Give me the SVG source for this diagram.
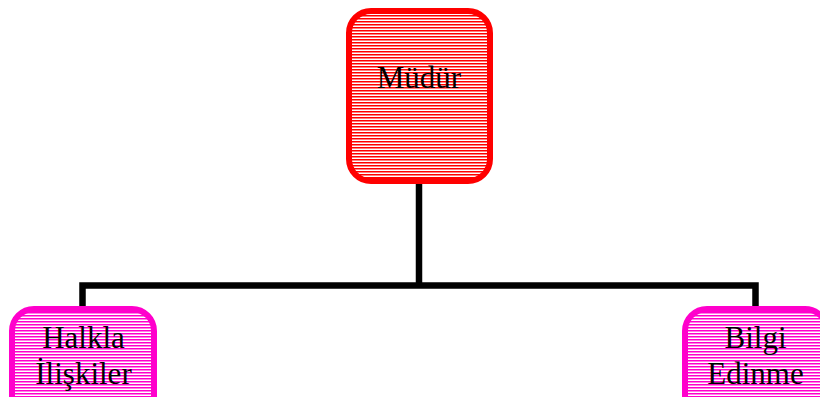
<svg xmlns="http://www.w3.org/2000/svg" width="820" height="397" viewBox="0 0 820 397">
  <defs>
    <pattern id="redStripes" patternUnits="userSpaceOnUse" width="8" height="3">
      <rect width="8" height="3" fill="#ffffff"/>
      <rect width="8" height="1.5" fill="#ff0000"/>
    </pattern>
    <pattern id="pinkStripes" patternUnits="userSpaceOnUse" width="8" height="3">
      <rect width="8" height="3" fill="#ffffff"/>
      <rect width="8" height="1.5" fill="#ff00cc"/>
    </pattern>
    <style>
      .lbl { font-family: "Liberation Serif", "Times New Roman", serif; font-size: 31px; fill: #000000; text-anchor: middle; }
      .conn { stroke: #000000; stroke-width: 6.5; fill: none; stroke-linejoin: miter; stroke-linecap: butt; }
      .boss { fill: url(#redStripes); stroke: #ff0000; stroke-width: 6; }
      .sub { fill: url(#pinkStripes); stroke: #ff00cc; stroke-width: 6; }
    </style>
  </defs>
  <rect width="820" height="397" fill="#ffffff"/>
  <g id="connectors">
    <path class="conn" d="M419,182 V285.5"/>
    <path class="conn" d="M82.5,309 V285.5 H755.5 V309"/>
  </g>
  <g id="node-mudur">
    <rect class="boss" x="349" y="11" width="141" height="170" rx="22" ry="22"/>
    <text class="lbl" x="419" y="88">Müdür</text>
  </g>
  <g id="node-halkla">
    <rect class="sub" x="12" y="309" width="142" height="130" rx="22" ry="22"/>
    <text class="lbl" x="83.5" y="348">Halkla</text>
    <text class="lbl" x="83.5" y="384">İlişkiler</text>
  </g>
  <g id="node-bilgi">
    <rect class="sub" x="685" y="309" width="142" height="130" rx="22" ry="22"/>
    <text class="lbl" x="755.5" y="348">Bilgi</text>
    <text class="lbl" x="755.5" y="384">Edinme</text>
  </g>
</svg>
